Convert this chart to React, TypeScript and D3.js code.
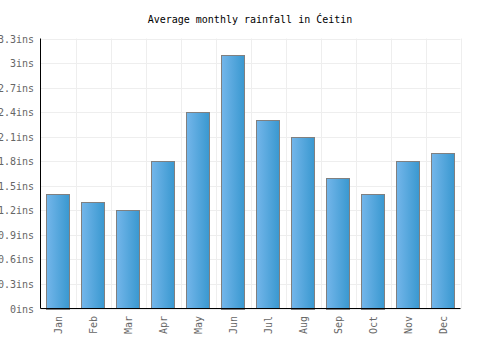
import React from "react";
import * as d3 from "d3";

const months = ["Jan","Feb","Mar","Apr","May","Jun","Jul","Aug","Sep","Oct","Nov","Dec"];
const rainfall = [1.4,1.3,1.2,1.8,2.4,3.1,2.3,2.1,1.6,1.4,1.8,1.9];
const yTicks = [0,0.3,0.6,0.9,1.2,1.5,1.8,2.1,2.4,2.7,3,3.3];
const title = "Average monthly rainfall in Ćeitin";

export default function App() {
  const W = 500, H = 350;
  const left = 40.5, right = 460.5, top = 38.5, bottom = 308.5;
  const x = d3.scaleBand<string>().domain(months).range([left, right]).paddingInner(0.33).paddingOuter(0.165);
  const xb = d3.scaleBand<string>().domain(months).range([left, right]);
  const y = d3.scaleLinear().domain([0, 3.3]).range([bottom, top]);
  const font = "'DejaVu Sans Mono', monospace";
  return (
    <svg width={W} height={H} style={{ position: "absolute", left: 0, top: 0 }} fontFamily={font}>
      <defs>
        <linearGradient id="bg" x1="0" x2="1" y1="0" y2="0">
          <stop offset="0%" stopColor="#74b6ea" />
          <stop offset="100%" stopColor="#3998d0" />
        </linearGradient>
      </defs>
      <rect width={W} height={H} fill="#fff" />
      <text x={250} y={23} textAnchor="middle" fontSize={10} fill="#000">{title}</text>
      {yTicks.map((t) => (
        <line key={"g" + t} x1={left} x2={right} y1={Math.round(y(t)) + 0.5} y2={Math.round(y(t)) + 0.5} stroke="#eeeeee" />
      ))}
      {months.map((m) => (
        <line key={"v" + m} x1={Math.round(xb(m)! + xb.bandwidth()) + 0.5} x2={Math.round(xb(m)! + xb.bandwidth()) + 0.5} y1={top} y2={bottom} stroke="#eeeeee" />
      ))}
      {months.map((m, i) => (
        <rect key={m} x={Math.round(x(m)!) + 0.5} y={Math.round(y(rainfall[i])) + 0.5} width={Math.round(x.bandwidth())} height={Math.round(bottom - y(rainfall[i]))} fill="url(#bg)" stroke="#808080" strokeWidth={1} />
      ))}
      <line x1={left} x2={left} y1={top} y2={bottom} stroke="#000" />
      <line x1={left} x2={right} y1={bottom} y2={bottom} stroke="#000" />
      {yTicks.map((t) => (
        <text key={"t" + t} x={34} y={y(t) + 4} textAnchor="end" fontSize={10} fill="#666">{d3.format("~g")(t) + "ins"}</text>
      ))}
      {months.map((m) => (
        <text key={"l" + m} transform={`translate(${xb(m)! + xb.bandwidth() / 2 + 4},316) rotate(-90)`} textAnchor="end" fontSize={10} fill="#666">{m}</text>
      ))}
    </svg>
  );
}
